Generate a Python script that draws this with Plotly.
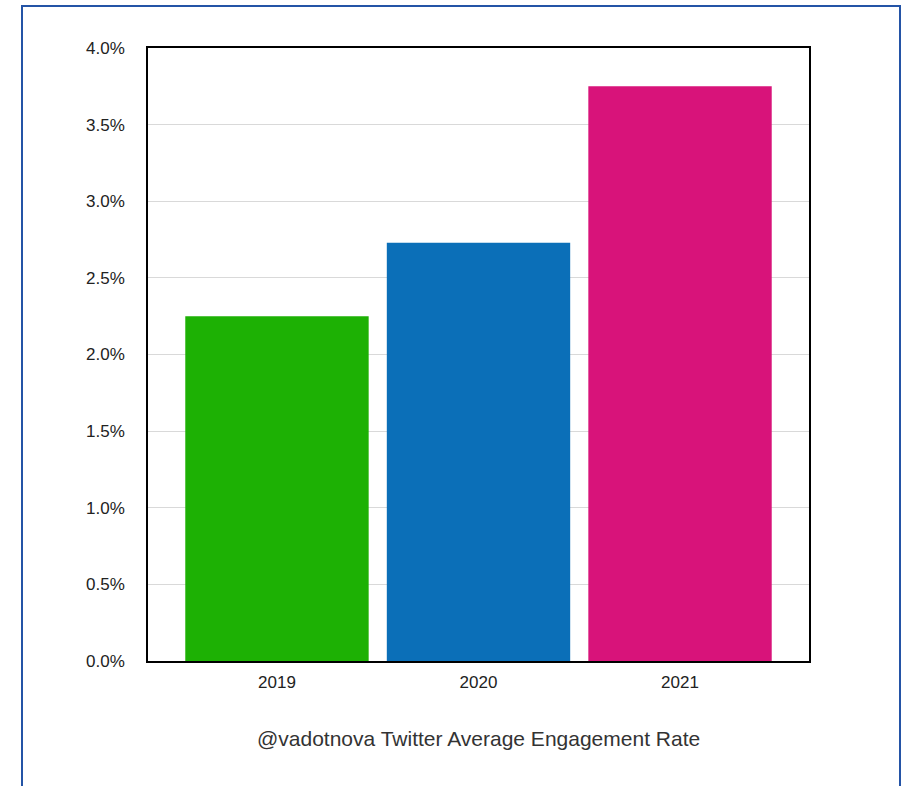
import plotly.graph_objects as go

years = ["2019", "2020", "2021"]
rates = [0.0225, 0.0273, 0.0375]
colors = ["#1DB104", "#0B6FB8", "#D8137A"]
title_text = "@vadotnova Twitter Average Engagement Rate"

W, H = 903, 786
L, R, T, B = 148, 94, 48, 125
pw, ph = W - L - R, H - T - B

fig = go.Figure(go.Bar(x=years, y=rates, marker=dict(color=colors, line=dict(width=0)), width=0.91))

font = "Liberation Sans, Arial, Helvetica, sans-serif"
fig.update_layout(
    width=W, height=H, margin=dict(l=L, r=R, t=T, b=B),
    paper_bgcolor="white", plot_bgcolor="white",
    showlegend=False,
    font=dict(family=font, size=17, color="#222222"),
    xaxis=dict(range=[-0.64, 2.64], showline=True, linecolor="black", linewidth=1.5,
               mirror=True, showgrid=False, ticks="", ticklabelstandoff=5,
               tickfont=dict(size=17)),
    yaxis=dict(range=[0, 0.04], dtick=0.005, tickformat=".1%", showline=True,
               linecolor="black", linewidth=1.5, mirror=True, showgrid=True,
               gridcolor="#d9d9d9", gridwidth=1, ticks="", ticklabelstandoff=18,
               zeroline=False, tickfont=dict(size=17)),
)

fig.add_annotation(text=title_text, xref="paper", yref="paper",
                   x=(478 - L) / pw, y=(H - B - 738) / ph, xanchor="center", yanchor="middle",
                   showarrow=False, font=dict(size=21, color="#333333"))

fig.add_shape(type="rect", xref="paper", yref="paper",
              x0=(22 - L) / pw, x1=(900 - L) / pw,
              y0=(H - B - 800) / ph, y1=(H - B - 6) / ph,
              line=dict(color="#2454A6", width=2), fillcolor="rgba(0,0,0,0)", layer="below")

fig.write_html("out.html")
